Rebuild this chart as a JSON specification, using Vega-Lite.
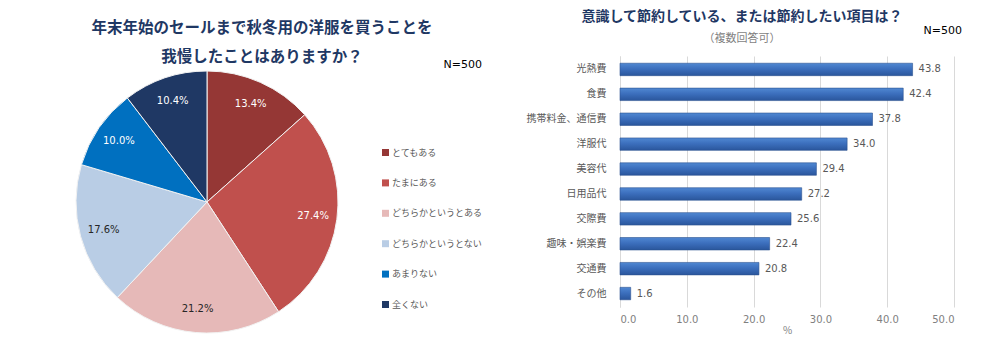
{
  "$schema": "https://vega.github.io/schema/vega-lite/v6.json",
  "background": "white",
  "padding": {"left": 74, "top": 10, "right": 0, "bottom": 0},
  "bounds": "flush",
  "spacing": 282,
  "config": {"font": "Noto Sans CJK JP", "view": {"stroke": null}},
  "datasets": {
    "pie": [
      {"cat": "とてもある", "pct": 13.4, "ord": 1},
      {"cat": "たまにある", "pct": 27.4, "ord": 2},
      {"cat": "どちらかというとある", "pct": 21.2, "ord": 3},
      {"cat": "どちらかというとない", "pct": 17.6, "ord": 4},
      {"cat": "あまりない", "pct": 10.0, "ord": 5},
      {"cat": "全くない", "pct": 10.4, "ord": 6}
    ],
    "bar": [
      {"item": "光熱費", "v": 43.8},
      {"item": "食費", "v": 42.4},
      {"item": "携帯料金、通信費", "v": 37.8},
      {"item": "洋服代", "v": 34.0},
      {"item": "美容代", "v": 29.4},
      {"item": "日用品代", "v": 27.2},
      {"item": "交際費", "v": 25.6},
      {"item": "趣味・娯楽費", "v": 22.4},
      {"item": "交通費", "v": 20.8},
      {"item": "その他", "v": 1.6}
    ],
    "note": [{"n": "N=500", "x": 50, "y": "光熱費"}]
  },
  "hconcat": [
    {
      "width": 262,
      "height": 292,
      "title": {
        "text": ["年末年始のセールまで秋冬用の洋服を買うことを", "我慢したことはありますか？"],
        "fontSize": 15.5,
        "fontWeight": "bold",
        "color": "#1f3864",
        "lineHeight": 29,
        "frame": "group",
        "anchor": "middle",
        "dx": 55,
        "offset": -9
      },
      "data": {"name": "pie"},
      "transform": [{"calculate": "format(datum.pct, '.1f') + '%'", "as": "label"}],
      "encoding": {
        "theta": {"field": "pct", "type": "quantitative", "stack": true},
        "order": {"field": "ord", "type": "quantitative"}
      },
      "layer": [
        {
          "mark": {"type": "arc", "stroke": "#f2f2f2", "strokeWidth": 1},
          "encoding": {
            "color": {
              "field": "cat",
              "type": "nominal",
              "sort": ["とてもある", "たまにある", "どちらかというとある", "どちらかというとない", "あまりない", "全くない"],
              "scale": {
                "domain": ["とてもある", "たまにある", "どちらかというとある", "どちらかというとない", "あまりない", "全くない"],
                "range": ["#953735", "#c0504d", "#e6b9b8", "#b9cde5", "#0070c0", "#1f3864"]
              },
              "legend": {
                "orient": "none",
                "legendX": 305,
                "legendY": 3,
                "title": "N=500",
                "titleFont": "DejaVu Sans",
                "titleFontSize": 11,
                "titleFontWeight": "normal",
                "titleColor": "#000000",
                "titleAnchor": "end",
                "titlePadding": 78,
                "symbolType": "square",
                "symbolSize": 49,
                "symbolStrokeWidth": 0,
                "labelFontSize": 9,
                "labelColor": "#595959",
                "labelOffset": 2,
                "rowPadding": 20.4
              }
            }
          }
        },
        {
          "mark": {"type": "text", "radius": 107, "fontSize": 10, "font": "DejaVu Sans"},
          "encoding": {
            "text": {"field": "label", "type": "nominal"},
            "color": {
              "condition": {"test": "datum.cat == 'どちらかというとある' || datum.cat == 'どちらかというとない'", "value": "#262626"},
              "value": "#ffffff"
            }
          }
        }
      ]
    },
    {
      "width": 334,
      "height": 251,
      "title": {
        "text": "意識して節約している、または節約したい項目は？",
        "subtitle": "（複数回答可）",
        "fontSize": 14,
        "fontWeight": "bold",
        "color": "#1f3864",
        "subtitleFontSize": 11,
        "subtitleColor": "#7f7f7f",
        "subtitlePadding": 9,
        "frame": "group",
        "anchor": "middle",
        "dx": -45,
        "offset": -19
      },
      "layer": [
        {
          "data": {"name": "bar"},
          "mark": {
            "type": "bar",
            "color": {
              "gradient": "linear",
              "x1": 0, "y1": 0, "x2": 0, "y2": 1,
              "stops": [
                {"offset": 0, "color": "#5088d2"},
                {"offset": 0.45, "color": "#3c6fbd"},
                {"offset": 1, "color": "#2a569c"}
              ]
            },
            "stroke": "#2c5391",
            "strokeWidth": 0.6
          },
          "encoding": {
            "y": {
              "field": "item",
              "type": "nominal",
              "sort": null,
              "scale": {"paddingInner": 0.5, "paddingOuter": 0.29},
              "axis": {
                "title": null,
                "ticks": false,
                "domain": true,
                "domainColor": "#d9d9d9",
                "labelFontSize": 10,
                "labelColor": "#595959",
                "labelPadding": 14
              }
            },
            "x": {
              "field": "v",
              "type": "quantitative",
              "scale": {"domain": [0, 50]},
              "axis": {
                "values": [0, 10, 20, 30, 40, 50],
                "format": ".1f",
                "title": "%",
                "titleFontSize": 10,
                "titleFontWeight": "normal",
                "titleColor": "#7f7f7f",
                "titlePadding": 1,
                "labelFont": "DejaVu Sans",
                "labelFontSize": 10,
                "labelColor": "#7f7f7f",
                "labelPadding": 7,
                "domain": false,
                "ticks": false,
                "grid": true,
                "gridColor": "#d9d9d9"
              }
            }
          }
        },
        {
          "data": {"name": "bar"},
          "mark": {"type": "text", "align": "left", "dx": 6, "fontSize": 10, "font": "DejaVu Sans", "color": "#595959"},
          "encoding": {
            "y": {"field": "item", "type": "nominal", "sort": null},
            "x": {"field": "v", "type": "quantitative"},
            "text": {"field": "v", "type": "quantitative", "format": ".1f"}
          }
        },
        {
          "data": {"name": "note"},
          "mark": {"type": "text", "align": "right", "baseline": "middle", "dx": 8, "dy": -38, "fontSize": 11, "font": "DejaVu Sans", "color": "#000000"},
          "encoding": {
            "x": {"field": "x", "type": "quantitative"},
            "y": {"field": "y", "type": "nominal", "sort": null},
            "text": {"field": "n", "type": "nominal"}
          }
        }
      ]
    }
  ]
}
